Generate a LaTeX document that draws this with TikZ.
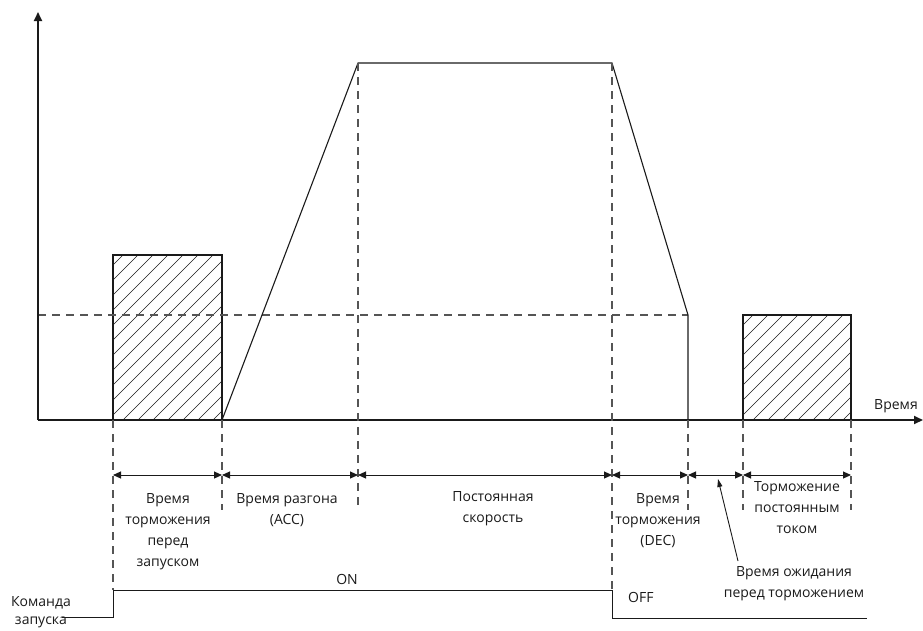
\documentclass[tikz,border=0pt]{standalone}
\usepackage{fontspec}
\setmainfont{Open Sans}
\usetikzlibrary{arrows.meta}
\definecolor{darkline}{HTML}{1A1A1A}
\definecolor{guidegray}{HTML}{555555}
\tikzset{
  axis/.style={line width=1.8pt, draw=darkline, -{Triangle[length=9pt, width=8pt]}},
  curve/.style={line width=1.1pt, draw=darkline},
  guide/.style={line width=1.3pt, draw=guidegray, dash pattern=on 8pt off 6pt},
  span/.style={line width=1pt, draw=darkline, {Triangle[length=8pt, width=7pt]}-{Triangle[length=8pt, width=7pt]}},
  hatchbox/.style={line width=1.1pt, draw=darkline},
  hatch/.style={line width=0.6pt, draw=darkline},
  lbl/.style={font=\fontsize{14}{21}\selectfont, align=center, inner sep=0pt, text=darkline},
  signal/.style={line width=1pt, draw=darkline},
  pointer/.style={line width=0.9pt, draw=darkline, -{Triangle[length=8pt, width=5pt]}}
}

\begin{document}
\begin{tikzpicture}[x=1pt, y=-1pt]
\useasboundingbox (0,0) rectangle (923,630);

% Key instants on the time axis.
\coordinate (origin) at (38,420);
\coordinate (ytop) at (38,12);
\coordinate (xend) at (923,420);
\coordinate (t0) at (113,420);
\coordinate (t1) at (222,420);
\coordinate (t2) at (358,420);
\coordinate (t3) at (612,420);
\coordinate (t4) at (688,420);
\coordinate (t5) at (743,420);
\coordinate (t6) at (851,420);
\coordinate (top) at (0,63);
\coordinate (mid) at (0,315);
\coordinate (brk) at (0,255);
\coordinate (spanrow) at (0,475);
\coordinate (guideend) at (0,510);
\coordinate (cmdhigh) at (0,590);
\coordinate (cmdlow) at (0,617);

% Hatched braking boxes.
\begin{scope}
  \clip (t0 |- brk) rectangle (t1);
  \foreach \k in {0,...,22} {
    \draw[hatch] (113-200+\k*15,420) -- ++(200,-200);
  }
\end{scope}
\draw[hatchbox] (t0) rectangle (t1 |- brk);
\begin{scope}
  \clip (t5 |- mid) rectangle (t6);
  \foreach \k in {0,...,22} {
    \draw[hatch] (743-200+\k*15,420) -- ++(200,-200);
  }
\end{scope}
\draw[hatchbox] (t5) rectangle (t6 |- mid);

% Speed profile.
\draw[guide] (origin |- mid) -- (t4 |- mid);
\draw[curve] (t1) -- (t2 |- top) -- (t3 |- top) -- (t4 |- mid) -- (t4);

% Axes.
\draw[axis] (origin) -- (ytop);
\draw[axis] (origin) -- (xend);
\node[lbl, anchor=south] (timelbl) at (896,413) {Время};

% Guide lines.
\draw[guide] (t0) -- (t0 |- cmdhigh);
\draw[guide] (t1) -- (t1 |- guideend);
\draw[guide] (t2 |- top) -- (t2 |- guideend);
\draw[guide] (t3 |- top) -- (t3 |- cmdhigh);
\draw[guide] (t4) -- (t4 |- guideend);
\draw[guide] (t5) -- (t5 |- guideend);
\draw[guide] (t6) -- (t6 |- guideend);

% Interval arrows.
\foreach \a/\b in {t0/t1, t1/t2, t2/t3, t3/t4, t4/t5, t5/t6} {
  \draw[span] (\a |- spanrow) -- (\b |- spanrow);
}

% Interval labels.
\node[lbl, anchor=north] (prebrake) at (168,493) {Время\\торможения\\перед\\запуском};
\node[lbl, anchor=north] (acc) at (287,493) {Время разгона\\(ACC)};
\node[lbl, anchor=north] (const) at (493,491) {Постоянная\\скорость};
\node[lbl, anchor=north] (dec) at (658,493) {Время\\торможения\\(DEC)};
\node[lbl, anchor=north] (dcbrake) at (797,481) {Торможение\\постоянным\\током};
\node[lbl, anchor=north] (wait) at (794,566) {Время ожидания\\перед торможением};
\coordinate (waittail) at (738,561);
\coordinate (waittip) at (718,479);
\draw[pointer] (waittail) -- (waittip);

% Run command.
\draw[signal] (62,617) -- (t0 |- cmdlow) -- (t0 |- cmdhigh) -- (t3 |- cmdhigh) -- (t3 |- 0,618) -- (867,618);
\node[lbl, anchor=south] (on) at (347,585) {ON};
\node[lbl, anchor=west] (off) at (628,597) {OFF};
\node[lbl, anchor=north, font=\fontsize{14}{18}\selectfont] (cmd) at (41,596) {Команда\\запуска};

\end{tikzpicture}
\end{document}
